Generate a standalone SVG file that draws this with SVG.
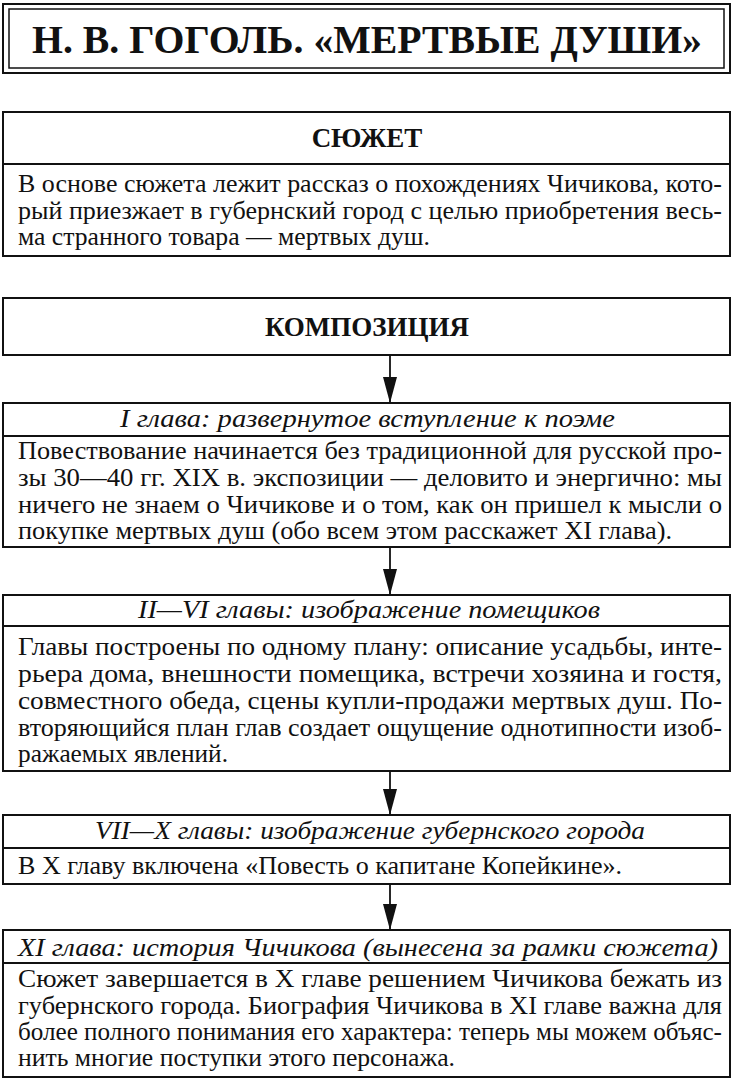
<svg xmlns="http://www.w3.org/2000/svg" width="735" height="1080" viewBox="0 0 735 1080">
<style>
.box{fill:#fff;stroke:#111;stroke-width:2}
.sep{stroke:#111;stroke-width:1.8}
.t{font-family:"Liberation Serif","Times New Roman",serif;fill:#111}
.title{font-size:40px;font-weight:bold}
.h{font-size:27px;font-weight:bold}
.hi{font-size:25px;font-style:italic}
.b{font-size:25px}
.con{stroke:#111;stroke-width:1.8;fill:none}
</style>
<defs>
<marker id="arr" markerWidth="26" markerHeight="14" refX="26" refY="7" orient="auto" markerUnits="userSpaceOnUse" viewBox="0 0 26 14">
<path d="M0,0 L26,7 L0,14 Z" fill="#111"/>
</marker>
</defs>
<rect width="735" height="1080" fill="#fff"/>

<g id="title">
<rect x="3" y="4" width="727" height="69" fill="#fff" stroke="#111" stroke-width="2"/>
<rect x="9" y="9" width="715" height="59" fill="none" stroke="#111" stroke-width="1.5"/>
<text class="t title" x="32" y="53" textLength="670" lengthAdjust="spacingAndGlyphs">Н. В. ГОГОЛЬ. «МЕРТВЫЕ ДУШИ»</text>
</g>

<g id="syuzhet">
<rect class="box" x="3" y="112" width="727" height="144"/>
<line class="sep" x1="3" y1="164" x2="730" y2="164"/>
<text class="t h" x="367" y="147" text-anchor="middle">СЮЖЕТ</text>
<text class="t b" x="18" y="192" textLength="704" lengthAdjust="spacingAndGlyphs">В основе сюжета лежит рассказ о похождениях Чичикова, кото-</text>
<text class="t b" x="18" y="219" textLength="704" lengthAdjust="spacingAndGlyphs">рый приезжает в губернский город с целью приобретения весь-</text>
<text class="t b" x="18" y="245" textLength="412" lengthAdjust="spacingAndGlyphs">ма странного товара — мертвых душ.</text>
</g>

<g id="kompoziciya">
<rect class="box" x="3" y="298" width="727" height="57"/>
<text class="t h" x="367" y="336" text-anchor="middle">КОМПОЗИЦИЯ</text>
</g>

<g id="glava1">
<rect class="box" x="3" y="403" width="727" height="144"/>
<line class="sep" x1="3" y1="436" x2="730" y2="436"/>
<text class="t hi" x="120" y="427" textLength="495" lengthAdjust="spacingAndGlyphs">I глава: развернутое вступление к поэме</text>
<text class="t b" x="18" y="459" textLength="704" lengthAdjust="spacingAndGlyphs">Повествование начинается без традиционной для русской про-</text>
<text class="t b" x="18" y="486" textLength="704" lengthAdjust="spacingAndGlyphs">зы 30—40 гг. XIX в. экспозиции — деловито и энергично: мы</text>
<text class="t b" x="18" y="513" textLength="704" lengthAdjust="spacingAndGlyphs">ничего не знаем о Чичикове и о том, как он пришел к мысли о</text>
<text class="t b" x="18" y="539" textLength="654" lengthAdjust="spacingAndGlyphs">покупке мертвых душ (обо всем этом расскажет XI глава).</text>
</g>

<g id="glava2-6">
<rect class="box" x="3" y="595" width="727" height="176"/>
<line class="sep" x1="3" y1="626" x2="730" y2="626"/>
<text class="t hi" x="138" y="618" textLength="462" lengthAdjust="spacingAndGlyphs">II—VI главы: изображение помещиков</text>
<text class="t b" x="18" y="655" textLength="704" lengthAdjust="spacingAndGlyphs">Главы построены по одному плану: описание усадьбы, инте-</text>
<text class="t b" x="18" y="682" textLength="704" lengthAdjust="spacingAndGlyphs">рьера дома, внешности помещика, встречи хозяина и гостя,</text>
<text class="t b" x="18" y="709" textLength="704" lengthAdjust="spacingAndGlyphs">совместного обеда, сцены купли-продажи мертвых душ. По-</text>
<text class="t b" x="18" y="736" textLength="704" lengthAdjust="spacingAndGlyphs">вторяющийся план глав создает ощущение однотипности изоб-</text>
<text class="t b" x="18" y="762" textLength="210" lengthAdjust="spacingAndGlyphs">ражаемых явлений.</text>
</g>

<g id="glava7-10">
<rect class="box" x="3" y="815" width="727" height="69"/>
<line class="sep" x1="3" y1="848" x2="730" y2="848"/>
<text class="t hi" x="95" y="839" textLength="550" lengthAdjust="spacingAndGlyphs">VII—X главы: изображение губернского города</text>
<text class="t b" x="18" y="874" textLength="604" lengthAdjust="spacingAndGlyphs">В X главу включена «Повесть о капитане Копейкине».</text>
</g>

<g id="glava11">
<rect class="box" x="3" y="930" width="727" height="147"/>
<line class="sep" x1="3" y1="963" x2="730" y2="963"/>
<text class="t hi" x="18" y="956" textLength="700" lengthAdjust="spacingAndGlyphs">XI глава: история Чичикова (вынесена за рамки сюжета)</text>
<text class="t b" x="18" y="987" textLength="704" lengthAdjust="spacingAndGlyphs">Сюжет завершается в X главе решением Чичикова бежать из</text>
<text class="t b" x="18" y="1014" textLength="704" lengthAdjust="spacingAndGlyphs">губернского города. Биография Чичикова в XI главе важна для</text>
<text class="t b" x="18" y="1040" textLength="704" lengthAdjust="spacingAndGlyphs">более полного понимания его характера: теперь мы можем объяс-</text>
<text class="t b" x="18" y="1066" textLength="437" lengthAdjust="spacingAndGlyphs">нить многие поступки этого персонажа.</text>
</g>

<g id="connectors">
<line class="con" x1="390" y1="355" x2="390" y2="403" marker-end="url(#arr)"/>
<line class="con" x1="390" y1="547" x2="390" y2="595" marker-end="url(#arr)"/>
<line class="con" x1="390" y1="771" x2="390" y2="815" marker-end="url(#arr)"/>
<line class="con" x1="390" y1="884" x2="390" y2="930" marker-end="url(#arr)"/>
</g>
</svg>
